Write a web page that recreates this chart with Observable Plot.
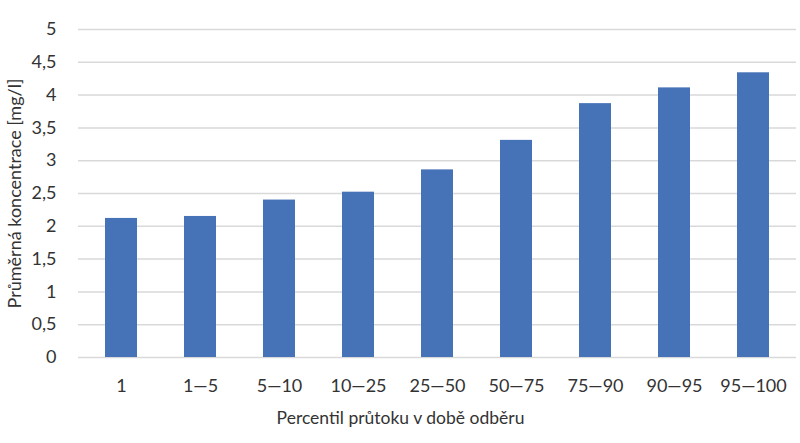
<!DOCTYPE html>
<html><head><meta charset="utf-8">
<script src="https://cdn.jsdelivr.net/npm/d3@7"></script>
<script src="https://cdn.jsdelivr.net/npm/@observablehq/plot@0.6"></script>
<style>body{margin:0;background:#fff}</style>
</head><body><div id="chart"></div>
<script>
const categories = ["1","1—5","5—10","10—25","25—50","50—75","75—90","90—95","95—100"];
const values = [2.12, 2.15, 2.40, 2.52, 2.86, 3.31, 3.87, 4.11, 4.34];
const yTicks = [0,0.5,1,1.5,2,2.5,3,3.5,4,4.5,5];
const xLabel = "Percentil průtoku v době odběru";
const yLabel = "Průměrná koncentrace [mg/l]";
const data = categories.map((c,i)=>({c, v: values[i]}));
const chart = Plot.plot({
  width: 800, height: 443,
  marginLeft: 78, marginRight: 4, marginTop: 29, marginBottom: 86,
  style: {fontFamily: "Lato, sans-serif", fontSize: "18px", color: "#333", background: "#fff"},
  x: {domain: categories, paddingInner: 0.6, paddingOuter: 0.3, label: null},
  y: {domain: [0,5], label: null},
  marks: [
    Plot.gridY(yTicks, {stroke: "#d9d9d9", strokeOpacity: 1, strokeWidth: 1.5}),
    Plot.barY(data, {x: "c", y: "v", fill: "#4672B8"}),
    Plot.axisY(yTicks, {tickSize: 0, tickPadding: 22, tickFormat: d => String(d).replace(".", ","), fontSize: 18,
      label: yLabel, labelAnchor: "center", labelOffset: 70, labelArrow: false}),
    Plot.axisX({tickSize: 0, tickPadding: 22, fontSize: 18, label: null}),
    Plot.text([xLabel], {text: d => d, frameAnchor: "bottom", dx: -37, dy: 66, fontSize: 17.5, fill: "#333"})
  ]
});
document.getElementById("chart").append(chart);
</script></body></html>
